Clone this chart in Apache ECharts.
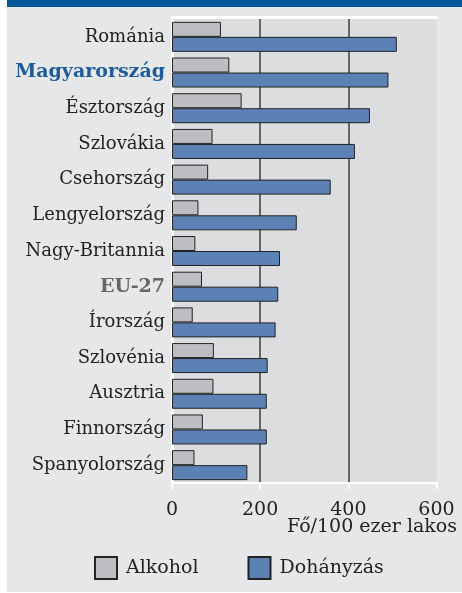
<!DOCTYPE html>
<html><head><meta charset="utf-8">
<script src="https://cdn.jsdelivr.net/npm/echarts@6/dist/echarts.min.js"></script>
<style>
html,body{margin:0;padding:0;background:#fff;width:462px;height:593px;overflow:hidden;}
#band{position:absolute;left:7px;top:0;width:455px;height:7px;background:#00579a;z-index:5;}
#chart{position:absolute;left:7px;top:0;width:455px;height:592px;}
</style></head>
<body>
<div id="chart"></div>
<div id="band"></div>
<script>
const categories = ['Románia','Magyarország','Észtország','Szlovákia','Csehország','Lengyelország','Nagy-Britannia','EU-27','Írország','Szlovénia','Ausztria','Finnország','Spanyolország'];
const alkohol = [111,130,158,92,82,60,53,68,47,95,94,70,51];
const dohanyzas = [510,491,449,415,360,283,245,241,235,217,215,215,171];
const xTicks = [0,200,400,600];
const unitLabel = 'Fő/100 ezer lakos';

const serif = '"DejaVu Serif", serif';
const chart = echarts.init(document.getElementById('chart'), null, {renderer:'canvas'});
chart.setOption({
  backgroundColor:'#e6e7e9',
  animation:false,
  textStyle:{fontFamily:serif},
  title:{text:unitLabel, right:5, top:518, padding:0, textStyle:{fontFamily:serif,fontSize:19,fontWeight:'normal',color:'#222222'}},
  legend:{
    top:556, left:87, itemWidth:22, itemHeight:22, itemGap:49, padding:0,
    icon:'rect',
    textStyle:{fontFamily:serif,fontSize:19,color:'#222222',padding:[0,0,0,4]},
    data:['Alkohol','Dohányzás']
  },
  grid:{left:165, right:25.5, top:19, bottom:109, show:true, backgroundColor:'#dcdddf', borderWidth:0},
  xAxis:[{
    type:'value', min:xTicks[0], max:xTicks[xTicks.length-1], interval:200, position:'bottom',
    axisLine:{show:true,lineStyle:{color:'#ffffff',width:2}},
    axisTick:{show:true,length:6,lineStyle:{color:'#ffffff',width:2}},
    axisLabel:{fontFamily:serif,fontSize:19,color:'#222222',margin:18},
    splitLine:{show:true,lineStyle:{color:['transparent','#3c3c3c','#3c3c3c','transparent'],width:1.5}}
  },{
    type:'value', min:0, max:600, position:'top', offset:1.5,
    axisLine:{show:true,lineStyle:{color:'#ffffff',width:3}},
    axisTick:{show:false}, axisLabel:{show:false}, splitLine:{show:false}
  }],
  yAxis:[{
    type:'category', data:categories, inverse:true,
    axisLine:{show:false}, axisTick:{show:false},
    axisLabel:{
      fontFamily:serif, fontSize:18, color:'#222222', margin:7,
      formatter:function(v){ if(v==='Magyarország') return '{hu|'+v+'}'; if(v==='EU-27') return '{eu|'+v+'}'; return v; },
      rich:{
        hu:{fontFamily:serif,fontSize:19,fontWeight:'bold',color:'#1d5c99'},
        eu:{fontFamily:serif,fontSize:19,fontWeight:'bold',color:'#666666'}
      }
    }
  },{
    type:'value', min:0, max:1, position:'right', offset:1.5,
    axisLine:{show:true,lineStyle:{color:'#ffffff',width:3}},
    axisTick:{show:false}, axisLabel:{show:false}, splitLine:{show:false}
  }],
  series:[
    {name:'Alkohol', type:'bar', data:alkohol, barWidth:15, barGap:'0%',
     itemStyle:{color:'#bdbec2',borderColor:'#222222',borderWidth:1}},
    {name:'Dohányzás', type:'bar', data:dohanyzas, barWidth:15, barGap:'0%',
     itemStyle:{color:'#5b81b5',borderColor:'#222222',borderWidth:1}}
  ]
});
</script>
</body></html>
